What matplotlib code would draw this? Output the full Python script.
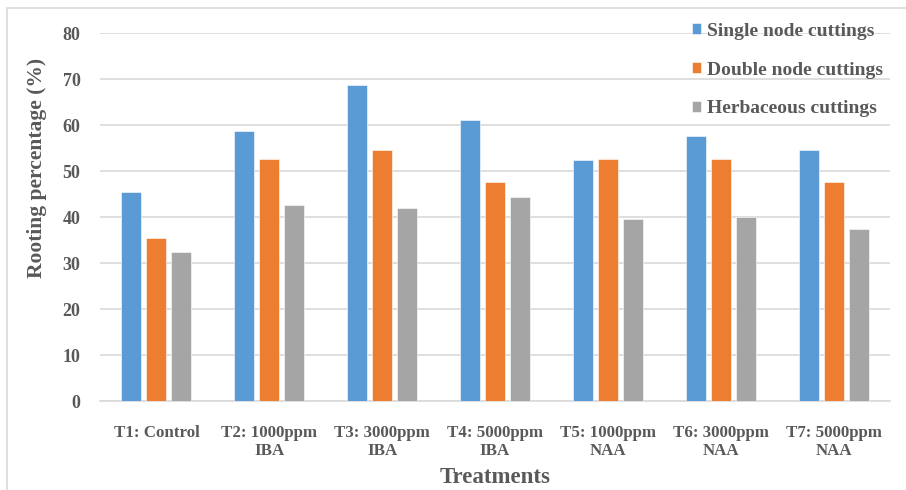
import matplotlib.pyplot as plt
import numpy as np
from matplotlib.patches import Rectangle

treatments = ["T1: Control", "T2: 1000ppm\nIBA", "T3: 3000ppm\nIBA", "T4: 5000ppm\nIBA",
              "T5: 1000ppm\nNAA", "T6: 3000ppm\nNAA", "T7: 5000ppm\nNAA"]
single_node = [45.4, 58.6, 68.6, 61.1, 52.3, 57.7, 54.5]
double_node = [35.4, 52.5, 54.6, 47.7, 52.5, 52.5, 47.5]
herbaceous = [32.3, 42.5, 41.9, 44.3, 39.5, 40.0, 37.4]

series = [("Single node cuttings", single_node, "#5b9bd5"),
          ("Double node cuttings", double_node, "#ed7d31"),
          ("Herbaceous cuttings", herbaceous, "#a5a5a5")]

plt.rcParams['font.family'] = ['Liberation Serif', 'DejaVu Serif']
plt.rcParams['font.weight'] = 'bold'
txt = "#595959"

fig = plt.figure(figsize=(9.06, 4.9), dpi=100)
ax = fig.add_axes([100/906, 1-401/490, 790/906, 368/490])

x = np.arange(len(treatments))
w = 0.177
step = 0.222
for i, (name, vals, col) in enumerate(series):
    ax.bar(x + (i-1)*step, vals, w, color=col, label=name, zorder=3,
           edgecolor="white", linewidth=0.4)

ax.set_xlim(-0.5, len(treatments)-0.5)
ax.set_ylim(0, 80)
ax.set_yticks(range(0, 81, 10))
ax.grid(axis='y', color="#d9d9d9", linewidth=1.2, zorder=0)
for s in ["top", "right", "left"]:
    ax.spines[s].set_visible(False)
ax.spines["bottom"].set_color("#d9d9d9")
ax.spines["bottom"].set_linewidth(1.2)
ax.tick_params(length=0, colors=txt)
ax.tick_params(axis='y', pad=14, labelsize=13)
ax.tick_params(axis='x', pad=17, labelsize=12.2)
ax.set_xticks(x)
ax.set_xticklabels(treatments, fontweight='bold', linespacing=1.2)
for t in ax.get_yticklabels():
    t.set_fontweight('bold')

ax.set_ylabel("Rooting percentage (%)", fontsize=15.5, color=txt, fontweight='bold')
ax.yaxis.set_label_coords(-53/790, (401-167.5)/368)
ax.set_xlabel("Treatments", fontsize=16.5, color=txt, fontweight='bold')
ax.xaxis.set_label_coords((495-100)/790, -(467-401)/368)

leg = ax.legend(loc='upper right', bbox_to_anchor=(1.0 + 1/790, 1.0 + 18/368), frameon=False,
                fontsize=14, handlelength=0.5, handleheight=0.5, handletextpad=0.3,
                labelspacing=1.12, borderaxespad=0)
for t in leg.get_texts():
    t.set_color(txt)
    t.set_fontweight('bold')

fig.patches.append(Rectangle((7/906, -0.1), 1.2, 1-8/490+0.1, transform=fig.transFigure,
                             fill=False, edgecolor="#d9d9d9", linewidth=1.2))

fig.savefig("out.png", dpi=100)
